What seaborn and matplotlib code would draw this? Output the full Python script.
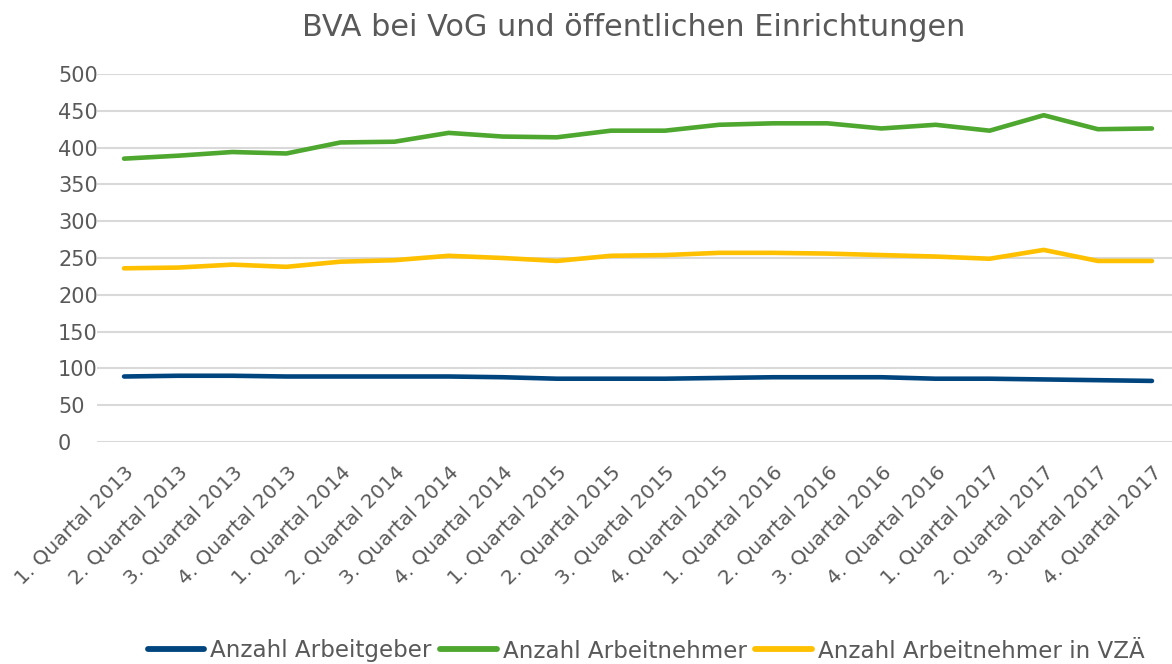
import matplotlib
matplotlib.use("Agg")
import matplotlib.pyplot as plt
import seaborn as sns
import pandas as pd

quarters = [
    "1. Quartal 2013", "2. Quartal 2013", "3. Quartal 2013", "4. Quartal 2013",
    "1. Quartal 2014", "2. Quartal 2014", "3. Quartal 2014", "4. Quartal 2014",
    "1. Quartal 2015", "2. Quartal 2015", "3. Quartal 2015", "4. Quartal 2015",
    "1. Quartal 2016", "2. Quartal 2016", "3. Quartal 2016", "4. Quartal 2016",
    "1. Quartal 2017", "2. Quartal 2017", "3. Quartal 2017", "4. Quartal 2017",
]
arbeitgeber = [89, 90, 90, 89, 89, 89, 89, 88, 86, 86, 86, 87, 88, 88, 88, 86, 86, 85, 84, 83]
arbeitnehmer = [385, 389, 394, 392, 407, 408, 420, 415, 414, 423, 423, 431, 433, 433, 426, 431, 423, 444, 425, 426]
arbeitnehmer_vzae = [236, 237, 241, 238, 245, 247, 253, 250, 246, 253, 254, 257, 257, 256, 254, 252, 249, 261, 246, 246]

series_names = ["Anzahl Arbeitgeber", "Anzahl Arbeitnehmer", "Anzahl Arbeitnehmer in VZÄ"]
series_colors = ["#00457E", "#4EA72E", "#FFC000"]
y_ticks = [0, 50, 100, 150, 200, 250, 300, 350, 400, 450, 500]

frames = []
for name, vals in zip(series_names, [arbeitgeber, arbeitnehmer, arbeitnehmer_vzae]):
    frames.append(pd.DataFrame({"Quartal": quarters, "pos": range(len(quarters)),
                                "Wert": vals, "Reihe": name}))
df = pd.concat(frames, ignore_index=True)

sns.set_theme(style="white")
plt.rcParams["font.family"] = ["DejaVu Sans"]
text_color = "#595959"

W, H = 1172, 664
fig = plt.figure(figsize=(W / 100, H / 100), dpi=100)
ax = fig.add_axes([97 / W, 1 - 442 / H, (1179 - 97) / W, (442 - 74) / H])

sns.lineplot(data=df, x="pos", y="Wert", hue="Reihe", palette=series_colors,
             hue_order=series_names, linewidth=3.3, ax=ax, legend=False,
             solid_capstyle="round", solid_joinstyle="round")

ax.set_xlim(-0.5, len(quarters) - 0.5)
ax.set_ylim(0, 500)
ax.set_yticks(y_ticks)
ax.set_yticklabels([str(t) for t in y_ticks], ha="left")
ax.tick_params(axis="y", length=0, pad=28, labelsize=15, labelcolor=text_color)
ax.set_xticks(range(len(quarters)))
ax.set_xticklabels(quarters, rotation=45, ha="right", rotation_mode="anchor")
ax.tick_params(axis="x", length=0, pad=15, labelsize=14.5, labelcolor=text_color)
ax.grid(axis="y", color="#D9D9D9", linewidth=1.5)
ax.grid(axis="x", visible=False)
for s in ax.spines.values():
    s.set_visible(False)
ax.set_xlabel("")
ax.set_ylabel("")

fig.text(634 / W, 1 - 28 / H, "BVA bei VoG und öffentlichen Einrichtungen",
         ha="center", va="center", fontsize=21.8, color=text_color)

handles = [plt.Line2D([], [], color=c, linewidth=4.2, solid_capstyle="round") for c in series_colors]
fig.legend(handles, series_names, loc="center", bbox_to_anchor=(646 / W, 1 - 651 / H),
           ncol=3, frameon=False, fontsize=16.6, labelcolor=text_color,
           handlelength=2.45, handletextpad=0.27, columnspacing=0.36)

fig.savefig("out.png", dpi=100)
